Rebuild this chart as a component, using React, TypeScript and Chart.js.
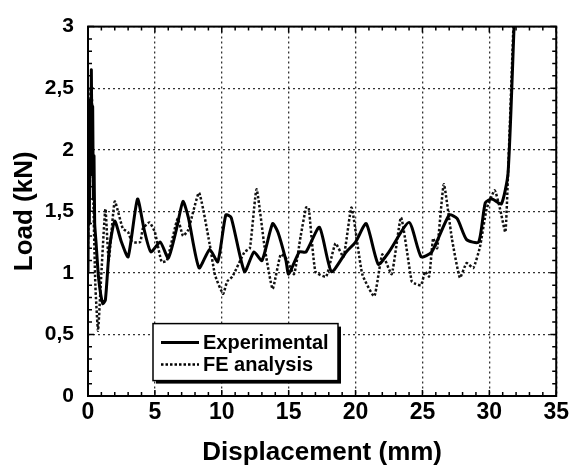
import React, { useEffect, useRef } from "react";
import { Chart, registerables } from "chart.js";

Chart.register(...registerables);

const expX = [0, 0.05, 0.1, 0.15, 0.2, 0.25, 0.3, 0.35, 0.4, 0.45, 0.5, 0.6, 0.8, 1.1, 1.3, 1.6, 2.0, 2.5, 3.0, 3.7, 4.2, 4.7, 5.4, 6.0, 6.6, 7.1, 7.5, 8.3, 9.1, 9.7, 10.3, 10.7, 11.7, 12.4, 13.0, 13.8, 14.2, 14.8, 15.0, 15.8, 16.3, 17.3, 18.2, 19.3, 20.0, 20.8, 21.7, 22.5, 24.0, 24.9, 25.7, 27.0, 27.6, 28.3, 29.2, 29.7, 30.2, 30.9, 31.4, 31.85];
const expY = [1.0, 2.0, 1.4, 2.4, 1.8, 2.65, 2.0, 2.35, 1.6, 1.95, 1.4, 1.25, 0.95, 0.75, 0.78, 1.2, 1.42, 1.25, 1.13, 1.6, 1.35, 1.17, 1.25, 1.12, 1.35, 1.58, 1.45, 1.04, 1.19, 1.09, 1.47, 1.45, 1.01, 1.17, 1.1, 1.4, 1.33, 1.1, 0.99, 1.17, 1.17, 1.37, 1.01, 1.17, 1.25, 1.4, 1.07, 1.17, 1.41, 1.13, 1.17, 1.47, 1.44, 1.27, 1.25, 1.57, 1.6, 1.56, 1.81, 3.0];

const feX = [0, 0.1, 0.2, 0.3, 0.4, 0.55, 0.75, 0.95, 1.3, 1.55, 2.0, 2.6, 3.0, 3.3, 3.9, 4.1, 4.6, 5.0, 5.5, 5.9, 6.7, 7.1, 7.5, 8.3, 9.1, 9.5, 10.1, 10.4, 10.8, 11.7, 12.1, 12.6, 13.2, 13.8, 14.4, 14.8, 15.4, 15.9, 16.3, 16.5, 17.0, 17.8, 18.5, 19.1, 19.7, 20.5, 21.4, 22.0, 22.7, 23.4, 24.2, 24.5, 24.9, 25.2, 25.5, 25.8, 26.1, 26.6, 27.2, 27.8, 28.3, 28.8, 29.3, 29.8, 30.4, 30.8, 31.2, 31.4, 31.8];
const feY = [1.2, 1.8, 2.5, 2.4, 1.6, 0.9, 0.53, 0.9, 1.52, 1.1, 1.58, 1.36, 1.33, 1.25, 1.25, 1.36, 1.41, 1.33, 1.09, 1.1, 1.44, 1.3, 1.35, 1.65, 1.23, 0.98, 0.83, 0.93, 0.97, 1.17, 1.2, 1.68, 1.21, 0.87, 1.15, 1.12, 0.99, 1.3, 1.53, 1.53, 1.01, 0.97, 1.24, 1.13, 1.53, 0.99, 0.81, 1.15, 0.99, 1.45, 0.93, 0.91, 0.9, 1.01, 0.97, 1.28, 1.2, 1.72, 1.28, 0.96, 1.08, 1.04, 1.21, 1.52, 1.67, 1.52, 1.33, 1.81, 3.0];

const seriesLabels = ["Experimental", "FE analysis"];
const xTickLabels = ["0", "5", "10", "15", "20", "25", "30", "35"];
const yTickLabels = ["0", "0,5", "1", "1,5", "2", "2,5", "3"];
const xTitle = "Displacement (mm)";
const yTitle = "Load (kN)";

const FONT = "'Liberation Sans', Arial, Helvetica, sans-serif";

const framePlugin = {
  id: "frameTicks",
  afterDatasetsDraw(chart: any) {
    const { ctx, chartArea: a, scales } = chart;
    const xs = scales.x;
    const ys = scales.y;
    ctx.save();
    ctx.strokeStyle = "#000";
    ctx.lineWidth = 1.5;
    ctx.setLineDash([]);
    for (let i = 0; i <= 35; i++) {
      const px = xs.getPixelForValue(i);
      const len = i % 5 === 0 ? 6 : 4;
      ctx.beginPath();
      ctx.moveTo(px, a.bottom);
      ctx.lineTo(px, a.bottom - len);
      ctx.moveTo(px, a.top);
      ctx.lineTo(px, a.top + len);
      ctx.stroke();
    }
    for (let i = 0; i <= 30; i++) {
      const py = ys.getPixelForValue(i / 10);
      const len = i % 5 === 0 ? 6 : 4;
      ctx.beginPath();
      ctx.moveTo(a.left, py);
      ctx.lineTo(a.left + len, py);
      ctx.moveTo(a.right, py);
      ctx.lineTo(a.right - len, py);
      ctx.stroke();
    }
    ctx.lineWidth = 2;
    ctx.strokeRect(a.left, a.top, a.right - a.left, a.bottom - a.top);
    ctx.restore();
  },
  afterDraw(chart: any) {
    const { ctx, chartArea: a } = chart;
    const bx = a.left + 65;
    const by = a.top + 297;
    const bw = 185;
    const bh = 57;
    ctx.save();
    ctx.fillStyle = "#000";
    ctx.fillRect(bx + 3, by + 3, bw, bh);
    ctx.fillStyle = "#fff";
    ctx.fillRect(bx, by, bw, bh);
    ctx.strokeStyle = "#000";
    ctx.lineWidth = 1.5;
    ctx.strokeRect(bx, by, bw, bh);
    chart.data.datasets.forEach((ds: any, i: number) => {
      const ly = by + 19 + i * 22;
      ctx.beginPath();
      ctx.lineWidth = ds.borderWidth;
      ctx.setLineDash(ds.borderDash || []);
      ctx.moveTo(bx + 8, ly);
      ctx.lineTo(bx + 46, ly);
      ctx.stroke();
      ctx.setLineDash([]);
      ctx.fillStyle = "#000";
      ctx.font = `bold 20px ${FONT}`;
      ctx.textBaseline = "middle";
      ctx.textAlign = "left";
      ctx.fillText(ds.label, bx + 50, ly + 1);
    });
    ctx.restore();
  },
};

export default function App() {
  const ref = useRef<HTMLCanvasElement | null>(null);
  useEffect(() => {
    if (!ref.current) return;
    const chart = new Chart(ref.current, {
      type: "scatter",
      data: {
        datasets: [
          {
            label: seriesLabels[0],
            data: expX.map((x, i) => ({ x, y: expY[i] })),
            showLine: true,
            borderColor: "#000",
            borderWidth: 3,
            pointRadius: 0,
            tension: 0.2,
          },
          {
            label: seriesLabels[1],
            data: feX.map((x, i) => ({ x, y: feY[i] })),
            showLine: true,
            borderColor: "#111",
            borderWidth: 2.5,
            borderDash: [2.5, 2],
            pointRadius: 0,
            tension: 0.15,
          },
        ],
      },
      options: {
        animation: false,
        responsive: true,
        maintainAspectRatio: false,
        layout: { padding: { left: 0, right: 14, top: 22, bottom: 0 } },
        plugins: { legend: { display: false }, tooltip: { enabled: false } },
        scales: {
          x: {
            type: "linear",
            min: 0,
            max: 35,
            afterFit: (s: any) => {
              s.height = 72;
            },
            ticks: {
              stepSize: 5,
              padding: 3,
              color: "#000",
              font: { family: FONT, size: 23, weight: "bold" },
              callback: (v: any) => xTickLabels[Math.round(Number(v) / 5)] ?? "",
              maxRotation: 0,
              autoSkip: false,
            },
            grid: { color: "#333", lineWidth: 1.3, drawTicks: false },
            border: { display: false, dash: [2, 3] },
            title: {
              display: true,
              text: xTitle,
              color: "#000",
              font: { family: FONT, size: 26, weight: "bold" },
              padding: { top: 0, bottom: 0 },
            },
          },
          y: {
            type: "linear",
            min: 0,
            max: 3,
            afterFit: (s: any) => {
              s.width = 88;
            },
            ticks: {
              stepSize: 0.5,
              padding: 14,
              color: "#000",
              font: { family: FONT, size: 21, weight: "bold" },
              callback: (v: any) => yTickLabels[Math.round(Number(v) * 2)] ?? "",
              autoSkip: false,
            },
            grid: { color: "#333", lineWidth: 1.3, drawTicks: false },
            border: { display: false, dash: [2, 3] },
            title: {
              display: true,
              text: yTitle,
              color: "#000",
              font: { family: FONT, size: 26, weight: "bold" },
              padding: { top: 9, bottom: 0 },
            },
          },
        },
      },
      plugins: [framePlugin],
    } as any);
    return () => chart.destroy();
  }, []);
  return (
    <div style={{ position: "absolute", left: 0, top: 0, width: 572, height: 468 }}>
      <canvas ref={ref} />
    </div>
  );
}
